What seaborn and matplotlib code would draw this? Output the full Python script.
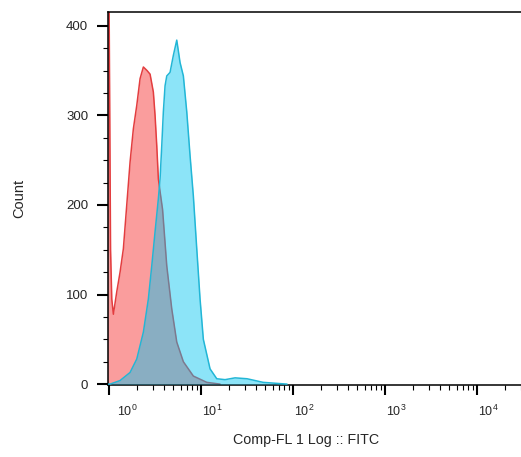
import numpy as np
import pandas as pd
import matplotlib
matplotlib.use("Agg")
import matplotlib.pyplot as plt
import matplotlib.transforms as mtransforms
import seaborn as sns
from matplotlib.ticker import LogLocator, MultipleLocator, NullFormatter

# histogram data (FITC intensity, count)
red_fitc = [0.951, 1.0, 1.038, 1.070, 1.114, 1.212, 1.317, 1.430, 1.557, 1.692,
            1.837, 2.000, 2.173, 2.360, 2.588, 2.791, 3.030, 3.162, 3.300, 3.435,
            3.584, 3.815, 4.239, 4.803, 5.443, 6.422, 8.246, 11.53, 16.09]
red_count = [440, 430, 150, 95, 78, 103, 125, 151, 200, 248,
             285, 311, 341, 354, 350, 346, 326, 300, 266, 229,
             215, 195, 132, 84, 47, 25, 9, 2, 0]

blue_fitc = [0.951, 1.025, 1.317, 1.692, 2.000, 2.360, 2.674, 2.912, 3.162, 3.435,
             3.584, 3.739, 3.892, 4.061, 4.239, 4.603, 5.000, 5.443, 5.911, 6.422,
             6.991, 7.594, 8.246, 8.981, 9.752, 10.59, 12.53, 14.82, 18.24, 23.42,
             31.62, 47.19, 86.06]
blue_count = [0, 0, 4, 13, 28, 58, 95, 132, 170, 207,
              229, 266, 304, 333, 344, 348, 367, 384, 359, 344,
              304, 255, 210, 151, 95, 50, 17, 6, 5, 7,
              6, 2, 0]

x_ticks = [1, 10, 100, 1000, 10000]
x_ticklabels = [r"$10^{0}$", r"$10^{1}$", r"$10^{2}$", r"$10^{3}$", r"$10^{4}$"]
y_ticks = [0, 100, 200, 300, 400]

sns.set_style("ticks")
plt.rcParams["font.family"] = ["Liberation Sans", "DejaVu Sans"]
plt.rcParams["mathtext.default"] = "regular"

red_df = pd.DataFrame({"fitc": red_fitc, "count": red_count})
blue_df = pd.DataFrame({"fitc": blue_fitc, "count": blue_count})

fig = plt.figure(figsize=(5.21, 4.57), dpi=100)
ax = fig.add_axes([0.208, 0.1575, 0.792, 0.8155])

# red sample first, blue drawn on top with transparency
ax.fill_between(red_df["fitc"], 0, red_df["count"], color="#fa9d9d", lw=0, zorder=1)
sns.lineplot(data=red_df, x="fitc", y="count", sort=False, estimator=None,
             color="#e33d3f", lw=1.1, ax=ax, zorder=2)
ax.fill_between(blue_df["fitc"], 0, blue_df["count"], color="#00c4f0", alpha=0.45, lw=0, zorder=3)
sns.lineplot(data=blue_df, x="fitc", y="count", sort=False, estimator=None,
             color="#22b6d6", lw=1.1, ax=ax, zorder=4)

ax.set_xscale("log")
ax.set_xlim(10 ** -0.0076, 10 ** 4.478)
ax.set_ylim(-1, 415)

ax.set_xticks(x_ticks, labels=x_ticklabels)
ax.xaxis.set_minor_locator(LogLocator(base=10, subs=np.arange(2, 10)))
ax.xaxis.set_minor_formatter(NullFormatter())
ax.set_yticks(y_ticks)
ax.yaxis.set_minor_locator(MultipleLocator(25))

ax.tick_params(axis="both", which="both", bottom=True, left=True, top=False, right=False,
               direction="out", color="black")
ax.tick_params(axis="both", which="major", width=1.5)
ax.tick_params(axis="both", which="minor", width=0.8, length=3.6)
ax.tick_params(axis="x", which="major", length=7.2, pad=6, labelsize=9)
ax.tick_params(axis="y", which="major", length=8, pad=6.5, labelsize=9.5)

# decade labels start at the tick; the first one is pushed clear of the spine
for i, lab in enumerate(ax.get_xticklabels()):
    dx = 0.08 if i == 0 else 0.01
    lab.set_horizontalalignment("left")
    lab.set_transform(lab.get_transform() + mtransforms.ScaledTranslation(dx, 0, fig.dpi_scale_trans))

for side in ["left", "bottom", "top"]:
    ax.spines[side].set_color("black")
    ax.spines[side].set_linewidth(1.1)
ax.spines["right"].set_visible(False)

ax.set_xlabel("Comp-FL 1 Log :: FITC", fontsize=10.3)
ax.set_ylabel("Count", fontsize=10.5)
ax.xaxis.set_label_coords(0.479, -0.13)
ax.yaxis.set_label_coords(-0.2, 0.5)

fig.savefig("out.png", dpi=100)
